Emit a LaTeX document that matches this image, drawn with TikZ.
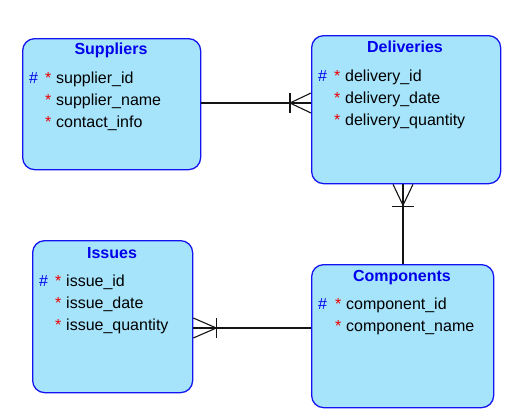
\documentclass[tikz,border=0pt]{standalone}
\usepackage{fontspec}
\setmainfont{Liberation Sans}
\definecolor{entfill}{RGB}{166,228,252}
\definecolor{entdraw}{RGB}{20,20,240}
\definecolor{ttlblue}{RGB}{0,0,235}
\definecolor{keyblue}{RGB}{0,0,235}
\definecolor{starred}{RGB}{235,0,0}
\definecolor{lnk}{RGB}{20,20,20}
\begin{document}
\begin{tikzpicture}[x=1pt,y=-1pt,
  ent/.style={draw=entdraw, fill=entfill, line width=1.3pt, rounded corners=12pt, inner sep=0pt, anchor=north west},
  ttl/.style={font=\bfseries\fontsize{16}{19}\selectfont, text=ttlblue, anchor=base, inner sep=0pt},
  att/.style={font=\fontsize{16}{19}\selectfont, anchor=base west, inner sep=0pt},
  hash/.style={att, text=keyblue},
  star/.style={att, text=starred},
  link/.style={draw=lnk, line width=1.1pt}]
\useasboundingbox (0,0) rectangle (512,418);
% entities
\node[ent, minimum width=178pt, minimum height=131pt] (sup) at (22,38) {};
\node[ent, minimum width=189pt, minimum height=148pt] (del) at (311,35) {};
\node[ent, minimum width=160pt, minimum height=152pt] (iss) at (32,240) {};
\node[ent, minimum width=182pt, minimum height=143pt] (com) at (311,264) {};
% Suppliers
\node[ttl] (supt) at (111,54) {Suppliers};
\node[hash] (s1h) at (29,83) {\#};
\node[star] (s1s) at (45,83) {*};
\node[att] (s1) at (56,83) {supplier\_id};
\node[star] (s2s) at (45,105) {*};
\node[att] (s2) at (56,105) {supplier\_name};
\node[star] (s3s) at (45,127) {*};
\node[att] (s3) at (56,127) {contact\_info};
% Deliveries
\node[ttl] (delt) at (405,52) {Deliveries};
\node[hash] (d1h) at (318,81) {\#};
\node[star] (d1s) at (334,81) {*};
\node[att] (d1) at (345,81) {delivery\_id};
\node[star] (d2s) at (334,103) {*};
\node[att] (d2) at (345,103) {delivery\_date};
\node[star] (d3s) at (334,125) {*};
\node[att] (d3) at (345,125) {delivery\_quantity};
% Issues
\node[ttl] (isst) at (112,258) {Issues};
\node[hash] (i1h) at (39,286) {\#};
\node[star] (i1s) at (55,286) {*};
\node[att] (i1) at (66,286) {issue\_id};
\node[star] (i2s) at (55,308) {*};
\node[att] (i2) at (66,308) {issue\_date};
\node[star] (i3s) at (55,330) {*};
\node[att] (i3) at (66,330) {issue\_quantity};
% Components
\node[ttl] (comt) at (402,281) {Components};
\node[hash] (c1h) at (318,309) {\#};
\node[star] (c1s) at (335,309) {*};
\node[att] (c1) at (346,309) {component\_id};
\node[star] (c2s) at (335,331) {*};
\node[att] (c2) at (346,331) {component\_name};
% connectors
\coordinate (yA) at (0,103);
\coordinate (xB) at (403,0);
\coordinate (yC) at (0,328);
% Suppliers -> Deliveries (many at Deliveries)
\draw[link] (sup.east |- yA) -- (del.west |- yA);
\draw[link] ([xshift=-21pt]del.west |- yA) -- ([yshift=-10pt]del.west |- yA);
\draw[link] ([xshift=-21pt]del.west |- yA) -- ([yshift=10pt]del.west |- yA);
\draw[link] ([xshift=-21pt,yshift=-10pt]del.west |- yA) -- ([xshift=-21pt,yshift=10pt]del.west |- yA);
% Components -> Deliveries (many at Deliveries)
\draw[link] (xB |- com.north) -- (xB |- del.south);
\draw[link] ([yshift=-21pt]xB |- del.south) -- ([xshift=-10pt]xB |- del.south);
\draw[link] ([yshift=-21pt]xB |- del.south) -- ([xshift=10pt]xB |- del.south);
\draw[link] ([xshift=-11pt,yshift=-22pt]xB |- del.south) -- ([xshift=11pt,yshift=-22pt]xB |- del.south);
% Components -> Issues (many at Issues)
\draw[link] (com.west |- yC) -- (iss.east |- yC);
\draw[link] ([xshift=23pt]iss.east |- yC) -- ([yshift=-10pt]iss.east |- yC);
\draw[link] ([xshift=23pt]iss.east |- yC) -- ([yshift=10pt]iss.east |- yC);
\draw[link] ([xshift=23pt,yshift=-10pt]iss.east |- yC) -- ([xshift=23pt,yshift=10pt]iss.east |- yC);
\end{tikzpicture}
\end{document}
